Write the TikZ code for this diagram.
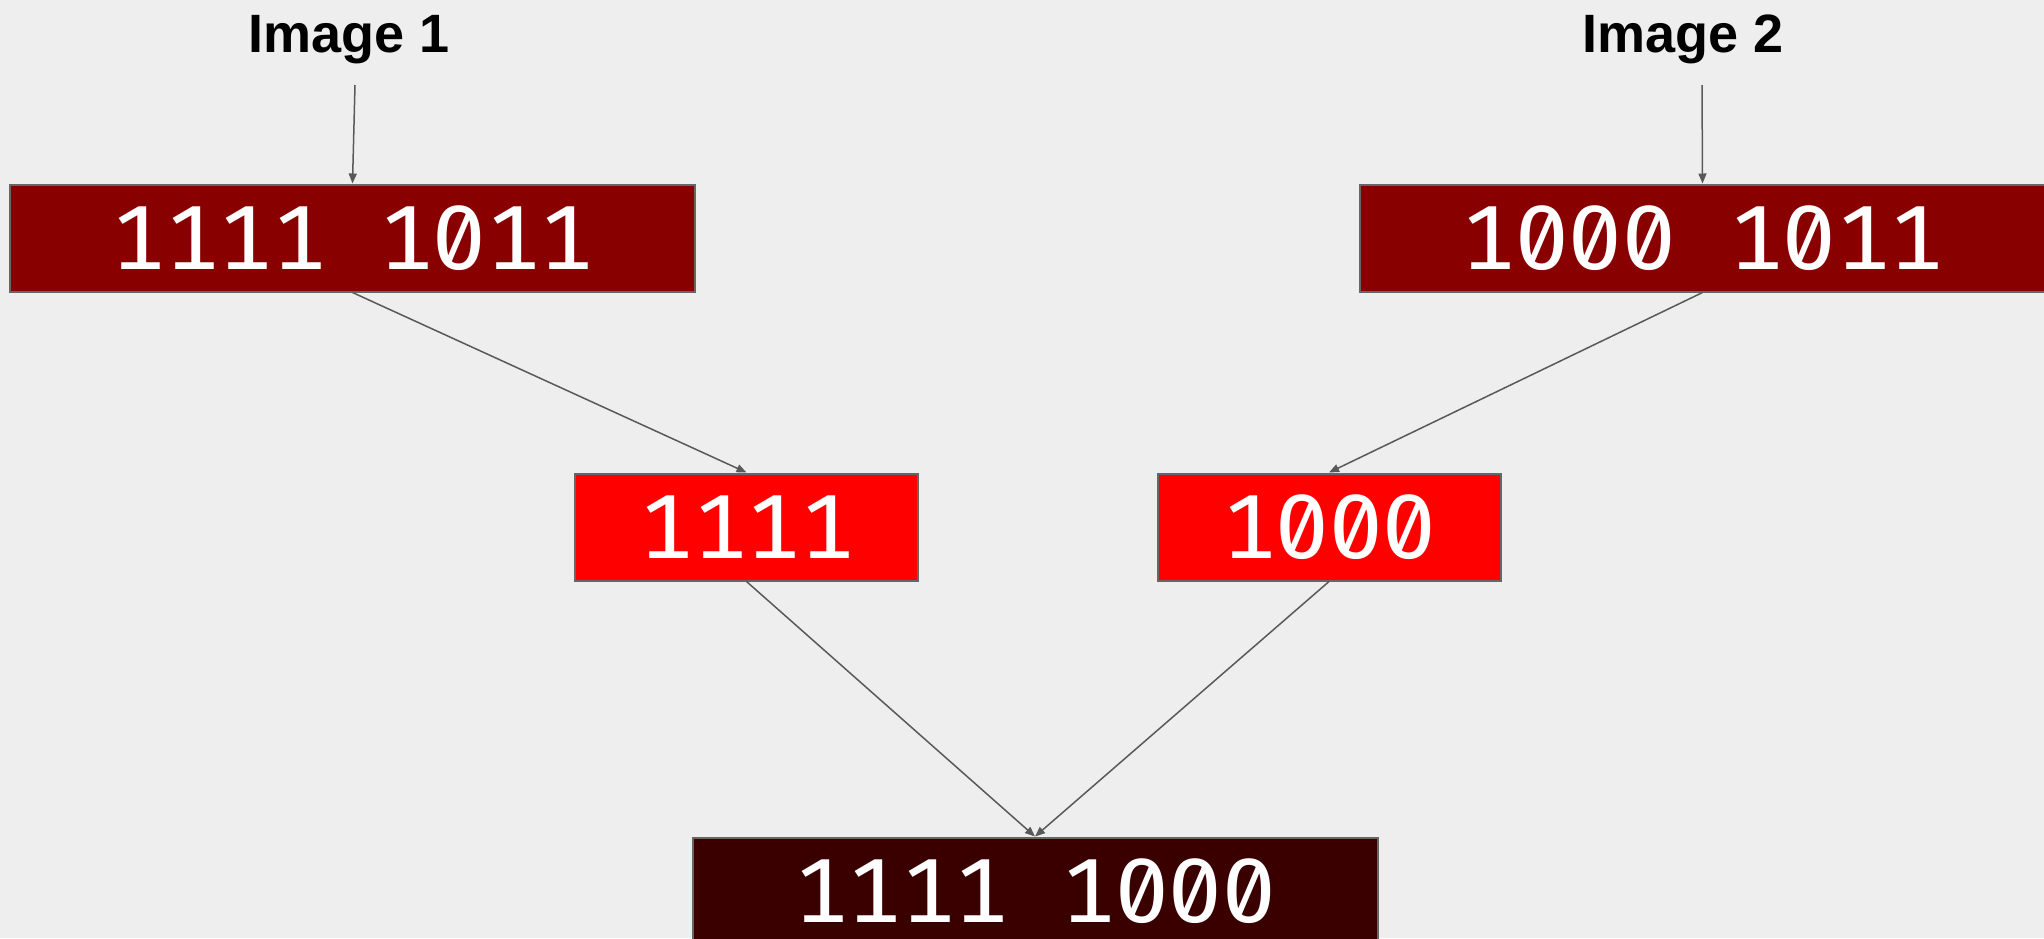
\documentclass[tikz,border=0pt]{standalone}
\usepackage{fontspec}
\usetikzlibrary{arrows.meta}
\newfontfamily\digitfont{Fira Sans}[Numbers={SlashedZero,Monospaced},FakeStretch=1.05]
\newfontfamily\labelfont{Liberation Sans}
\newcommand{\dsp}{\hphantom{0}}
\definecolor{bgc}{HTML}{EEEEEE}
\definecolor{darkbox}{HTML}{880000}
\definecolor{redbox}{HTML}{FF0000}
\definecolor{blackbox}{HTML}{3A0000}
\definecolor{edgec}{HTML}{666666}
\definecolor{linec}{HTML}{595959}
\tikzset{
  bitbox/.style={draw=edgec, line width=1pt, inner sep=0pt, minimum height=53.5pt,
    text=white, font=\digitfont\fontsize{45.5}{45.5}\selectfont, text height=31.3pt, text depth=0pt},
  widebox/.style={bitbox, minimum width=342.5pt},
  halfbox/.style={bitbox, minimum width=171.5pt},
  title/.style={font=\labelfont\bfseries\fontsize{27}{27}\selectfont, anchor=base, inner sep=0pt},
  conn/.style={draw=linec, line width=0.75pt, -{Triangle[length=5pt,width=4pt]}}
}
\begin{document}
\begin{tikzpicture}[x=0.5pt,y=-0.5pt]
\fill[bgc] (0,0) rectangle (2044,938);
\useasboundingbox (0,0) rectangle (2044,938);
\clip (0,0) rectangle (2044,938);
\node[title] (t1) at (349,52) {Image 1};
\node[title] (t2) at (1683,52) {Image 2};
\coordinate (s1) at (355,85);
\coordinate (s2) at (1702,85);
\node[widebox, fill=darkbox] (b1) at (352.5,238) {1111\dsp1011};
\node[widebox, fill=darkbox] (b2) at (1702.5,238) {1000\dsp1011};
\node[halfbox, fill=redbox] (b3) at (746.5,527) {1111};
\node[halfbox, fill=redbox] (b4) at (1329,527) {1000};
\node[widebox, fill=blackbox] (b5) at (1035,891) {1111\dsp1000};
\draw[conn] (s1) -- (b1.north);
\draw[conn] (s2) -- (b2.north);
\draw[conn] (b1.south) -- (b3.north);
\draw[conn] (b2.south) -- (b4.north);
\draw[conn] (b3.south) -- (b5.north);
\draw[conn] (b4.south) -- (b5.north);
\end{tikzpicture}
\end{document}
